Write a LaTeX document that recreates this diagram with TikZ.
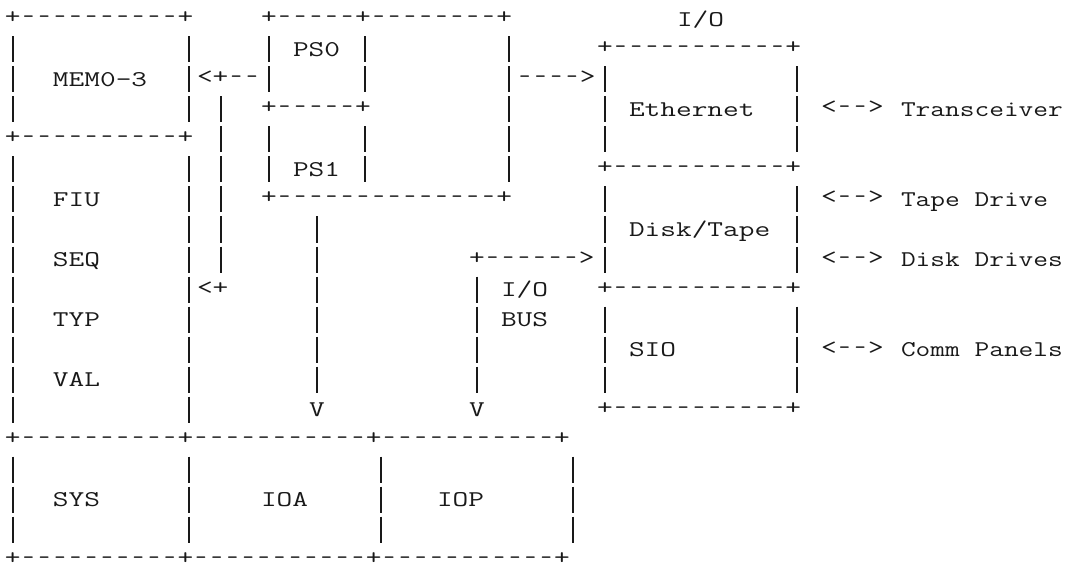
\documentclass[tikz,border=0pt]{standalone}
\usepackage{graphicx}

% character grid: one column = 16pt, one row = 30pt (downwards)
\newcommand\kx{1.354}    % stretches the typewriter face to the column pitch
\newcommand\kxr{1.27}    % slightly tighter pitch for the far-right labels
\definecolor{ink}{gray}{0.1}

\tikzset{
  seg/.style={anchor=base west, inner sep=0pt, outer sep=0pt, text=ink,
              font=\fontsize{22.5pt}{22.5pt}\selectfont\ttfamily},
  vbar/.style={draw=ink, line width=1.3pt,
               dash pattern=on 26pt off 4pt, dash phase=28pt},
}

% a short typewriter hyphen occupying exactly one character cell
\newcommand\hy{\setbox0\hbox{-}\makebox[\wd0]{\scalebox{0.72}[1]{-}}}
% a run of #1 such hyphens
\newcommand\hys[1]{\foreach\k in {1,...,#1}{\hy}}

% \asc{name}{column}{row}{characters}   (text rows)
\newcommand\asc[4]{\node[seg] (#1) at ({#2-0.5},{#3+0.225}) {\scalebox{\kx}[1]{#4}};}
% \edg{name}{column}{row}{characters}   (rows of + and -)
\newcommand\edg[4]{\node[seg] (#1) at ({#2-0.5},{#3+0.15}) {\scalebox{\kx}[1]{#4}};}
\newcommand\ascr[4]{\node[seg] (#1) at ({#2-0.5},{#3+0.225}) {\scalebox{\kxr}[1]{#4}};}
% \vrun{column}{row of upper +}{row of lower +}: a run of | characters
\newcommand\vrun[3]{\draw[vbar] (#1,{#2+0.5}) -- (#1,{#3-0.5});}

\begin{document}
\begin{tikzpicture}[x=16pt,y=-30pt]
\useasboundingbox (-13pt,19.5pt) rectangle (1069pt,-547.5pt);

% ---- memory boards
\edg{memtop}{0}{0}{+\hys{10}+}
\asc{mem}{3}{2}{MEM0-3}
\edg{membot}{0}{4}{+\hys{10}+}
\vrun{0}{0}{4} \vrun{11}{0}{4}

% ---- processor boards
\asc{fiu}{3}{6}{FIU}
\asc{seq}{3}{8}{SEQ}
\asc{typ}{3}{10}{TYP}
\asc{val}{3}{12}{VAL}
\vrun{0}{4}{14} \vrun{11}{4}{14}

% ---- bottom row of boards
\edg{bottop}{0}{14}{+\hys{10}+\hys{11}+\hys{11}+}
\asc{sys}{3}{16}{SYS}
\asc{ioa}{16}{16}{IOA}
\asc{iop}{27}{16}{IOP}
\edg{botbot}{0}{18}{+\hys{10}+\hys{11}+\hys{11}+}
\vrun{0}{14}{18} \vrun{11}{14}{18} \vrun{23}{14}{18} \vrun{35}{14}{18}

% ---- power supplies
\edg{pstop}{16}{0}{+\hys{5}+\hys{8}+}
\asc{ps0}{18}{1}{PS0}
\edg{ps0bot}{16}{3}{+\hys{5}+}
\asc{ps1}{18}{5}{PS1}
\edg{psbot}{16}{6}{+\hys{14}+}
\vrun{16}{0}{3} \vrun{22}{0}{3} \vrun{16}{3}{6} \vrun{22}{3}{6} \vrun{31}{0}{6}

% ---- power to memory and processors
\edg{memin}{12}{2}{<+\hys{2}}
\edg{cpuin}{12}{9}{<+}
\coordinate (tapA) at (13,2);
\coordinate (tapB) at (13,9);
\draw[vbar] ([yshift=-15pt]tapA) -- ([yshift=15pt]tapB);

% ---- power to I/O and to the bottom row
\edg{toeth}{32}{2}{\hys{4}>}
\coordinate (psdrop) at (19,6);
\coordinate (psend) at (19,13);
\asc{downA}{19}{13}{V}
\draw[vbar] ([yshift=-15pt]psdrop) -- ([yshift=15pt]psend);

% ---- I/O bus
\edg{bus}{29}{8}{+\hys{6}>}
\coordinate (busdrop) at (29,8);
\coordinate (busend) at (29,13);
\asc{downB}{29}{13}{V}
\draw[vbar] ([yshift=-15pt]busdrop) -- ([yshift=15pt]busend);
\asc{busA}{31}{9}{I/O}
\asc{busB}{31}{10}{BUS}

% ---- I/O boards
\asc{iolabel}{42}{0}{I/O}
\edg{ethtop}{37}{1}{+\hys{11}+}
\asc{eth}{39}{3}{Ethernet}
\edg{ethbot}{37}{5}{+\hys{11}+}
\asc{disk}{39}{7}{Disk/Tape}
\edg{diskbot}{37}{9}{+\hys{11}+}
\asc{sio}{39}{11}{SIO}
\edg{siobot}{37}{13}{+\hys{11}+}
\vrun{37}{1}{5} \vrun{49}{1}{5}
\vrun{37}{5}{9} \vrun{49}{5}{9}
\vrun{37}{9}{13} \vrun{49}{9}{13}

% ---- external connections
\edg{lnkA}{51}{3}{<\hys{2}>}  \ascr{xcvr}{56}{3}{Transceiver}
\edg{lnkB}{51}{6}{<\hys{2}>}  \ascr{tape}{56}{6}{Tape Drive}
\edg{lnkC}{51}{8}{<\hys{2}>}  \ascr{dsk}{56}{8}{Disk Drives}
\edg{lnkD}{51}{11}{<\hys{2}>} \ascr{comm}{56}{11}{Comm Panels}
\end{tikzpicture}
\end{document}
